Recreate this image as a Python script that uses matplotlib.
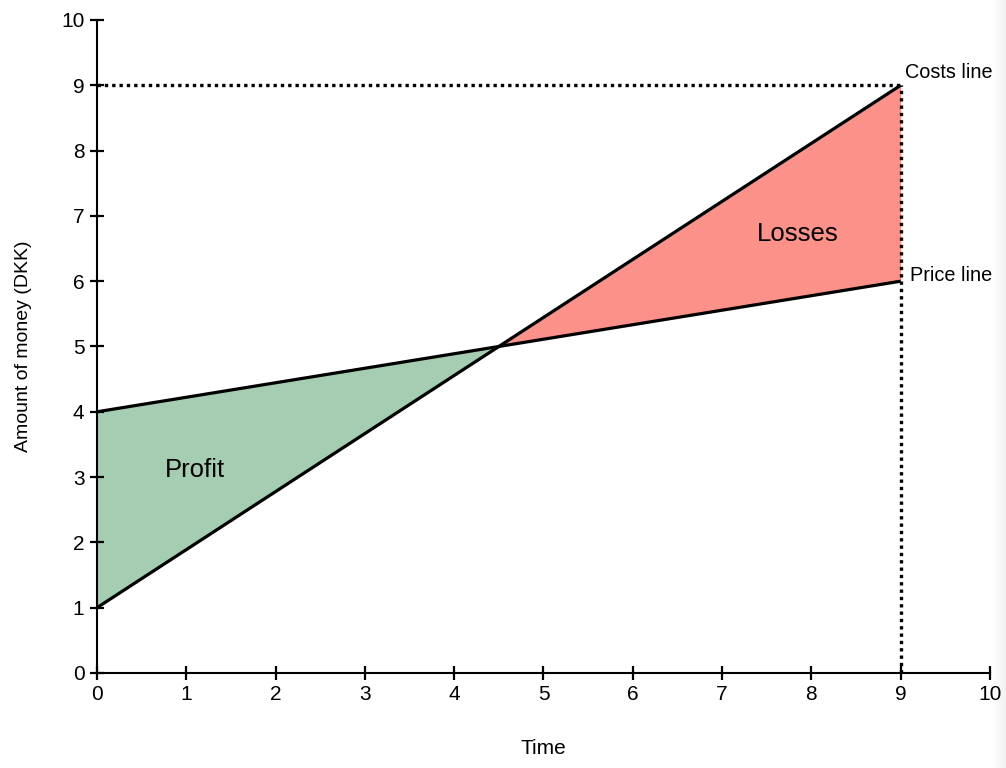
import matplotlib.pyplot as plt
import numpy as np

plt.rcParams["font.family"] = ["Liberation Sans", "DejaVu Sans"]

# break-even chart data
time = [0, 4.5, 9]
costs = [1, 5, 9]
price = [4, 5, 6]
end_time = 9
end_cost = 9

GREEN = "#a5cdb1"
RED = "#fc9189"

fig = plt.figure(figsize=(10.06, 7.68), dpi=100)

# faint grey shading at the right edge of the page
edge = fig.add_axes([0.985, 0, 0.015, 1])
edge.imshow(np.linspace(1.0, 0.94, 20)[None, :], cmap="gray", vmin=0, vmax=1,
            aspect="auto", extent=[0, 1, 0, 1])
edge.axis("off")

ax = fig.add_axes([0.0964, 0.1237, 0.8877, 0.8503])
ax.patch.set_alpha(0)

ax.fill_between(time[:2], costs[:2], price[:2], color=GREEN, lw=0)
ax.fill_between(time[1:], costs[1:], price[1:], color=RED, lw=0)

ax.plot([0, end_time], [end_cost, end_cost], ls=(0, (1, 1.2)), color="black", lw=2.4)
ax.plot([end_time, end_time], [0, end_cost], ls=(0, (1, 1.2)), color="black", lw=2.4)

ax.plot(time, costs, color="black", lw=2.3, solid_capstyle="butt")
ax.plot(time, price, color="black", lw=2.3, solid_capstyle="butt")

ax.text(1.10, 3.11, "Profit", fontsize=18.5, ha="center", va="center")
ax.text(7.85, 6.72, "Losses", fontsize=18.5, ha="center", va="center")
ax.text(9.05, 9.19, "Costs line", fontsize=14.3, ha="left", va="center")
ax.text(9.10, 6.08, "Price line", fontsize=14.3, ha="left", va="center")

ax.set_xlim(0, 10)
ax.set_ylim(0, 10)
ax.set_xticks(range(0, 11))
ax.set_yticks(range(0, 11))
ax.tick_params(direction="inout", length=10, width=1.6, labelsize=15, pad=4)
for side in ("top", "right"):
    ax.spines[side].set_visible(False)
for side in ("left", "bottom"):
    ax.spines[side].set_linewidth(1.5)

ax.set_xlabel("Time", fontsize=15, labelpad=25)
ax.set_ylabel("Amount of money (DKK)", fontsize=14, labelpad=21)

fig.savefig("out.png", dpi=100)
